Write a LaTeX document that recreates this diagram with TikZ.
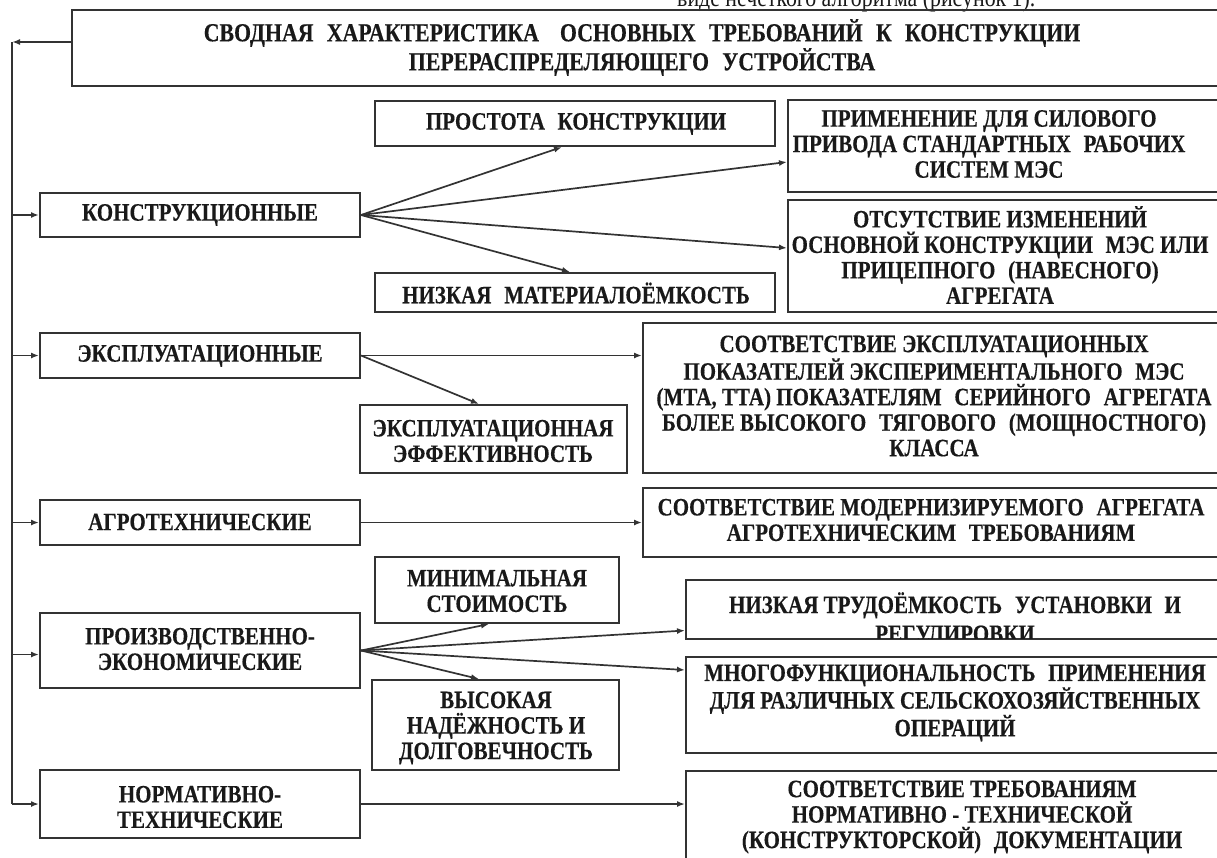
\documentclass[tikz,border=0pt]{standalone}
\usepackage{fontspec}
\setmainfont{Liberation Serif}[FakeStretch=0.84, BoldFeatures={FakeBold=0.3}]
\usetikzlibrary{arrows.meta,fit}
\newcommand\dsp{\hspace{0.3em}}
\begin{document}
\begin{tikzpicture}[x=1pt,y=-1pt,
  box/.style={draw=black!80, line width=2pt, inner sep=0pt},
  txt/.style={align=center, inner sep=0pt, text=black!90, font=\bfseries\fontsize{25}{25.5}\selectfont},
  htxt/.style={align=center, inner sep=0pt, text=black!90, font=\bfseries\fontsize{26}{29}\selectfont},
  conn/.style={draw=black!80, line width=1.7pt},
  arr/.style={conn, -{Latex[length=8pt,width=6pt]}}]
\useasboundingbox (0,0) rectangle (1217,857);

% stray text line from the page above
\node[anchor=base west, inner sep=0pt, font=\fontsize{26}{26}\selectfont, text=black!90] (above) at (677,6) {виде нечеткого алгоритма (рисунок 1).};

% boxes
\node[box, fit={(72,10) (1240,86)}] (head) {};
\node[box, fit={(375,101) (775,146)}] (prost) {};
\node[box, fit={(788,100) (1240,192)}] (prim) {};
\node[box, fit={(40,193) (360,237)}] (konstr) {};
\node[box, fit={(788,200) (1240,312)}] (otsut) {};
\node[box, fit={(375,273) (775,312)}] (nizm) {};
\node[box, fit={(40,333) (360,378)}] (ekspl) {};
\node[box, fit={(643,323) (1240,473)}] (sootv1) {};
\node[box, fit={(360,405) (627,473)}] (eff) {};
\node[box, fit={(40,500) (360,545)}] (agro) {};
\node[box, fit={(643,488) (1240,557)}] (sootv2) {};
\node[box, fit={(375,557) (619,623)}] (minim) {};
\node[box, fit={(686,580) (1240,639)}] (nizt) {};
\node[box, fit={(40,613) (360,688)}] (proizv) {};
\node[box, fit={(686,657) (1240,753)}] (mnogo) {};
\node[box, fit={(372,680) (619,770)}] (vys) {};
\node[box, fit={(40,770) (360,838)}] (norm) {};
\node[box, fit={(686,771) (1240,890)}] (sootv3) {};

% texts
\node[htxt] (head-t) at (642,47.5) {СВОДНАЯ \dsp ХАРАКТЕРИСТИКА \dsp\dsp ОСНОВНЫХ \dsp ТРЕБОВАНИЙ \dsp К \dsp КОНСТРУКЦИИ\\ПЕРЕРАСПРЕДЕЛЯЮЩЕГО \dsp УСТРОЙСТВА};
\node[txt] (prost-t) at (576,124) {ПРОСТОТА \dsp КОНСТРУКЦИИ};
\node[txt] (prim-t) at (989,144) {ПРИМЕНЕНИЕ ДЛЯ СИЛОВОГО\\ПРИВОДА СТАНДАРТНЫХ \dsp РАБОЧИХ\\СИСТЕМ МЭС};
\node[txt] (konstr-t) at (200,215) {КОНСТРУКЦИОННЫЕ};
\node[txt] (otsut-t) at (1000,255) {ОТСУТСТВИЕ ИЗМЕНЕНИЙ\\ОСНОВНОЙ КОНСТРУКЦИИ \dsp МЭС ИЛИ\\ПРИЦЕПНОГО \dsp (НАВЕСНОГО)\\АГРЕГАТА};
\node[txt] (nizm-t) at (576,293) {НИЗКАЯ \dsp МАТЕРИАЛОЁМКОСТЬ};
\node[txt] (ekspl-t) at (200,356) {ЭКСПЛУАТАЦИОННЫЕ};
\node[txt] (sootv1-t) at (934,396) {СООТВЕТСТВИЕ ЭКСПЛУАТАЦИОННЫХ\\ПОКАЗАТЕЛЕЙ ЭКСПЕРИМЕНТАЛЬНОГО \dsp МЭС\\(МТА, ТТА) ПОКАЗАТЕЛЯМ \dsp СЕРИЙНОГО \dsp АГРЕГАТА\\БОЛЕЕ ВЫСОКОГО \dsp ТЯГОВОГО \dsp (МОЩНОСТНОГО)\\КЛАССА};
\node[txt] (eff-t) at (493,441) {ЭКСПЛУАТАЦИОННАЯ\\ЭФФЕКТИВНОСТЬ};
\node[txt] (agro-t) at (200,522) {АГРОТЕХНИЧЕСКИЕ};
\node[txt] (sootv2-t) at (931,520) {СООТВЕТСТВИЕ МОДЕРНИЗИРУЕМОГО \dsp АГРЕГАТА\\АГРОТЕХНИЧЕСКИМ \dsp ТРЕБОВАНИЯМ};
\node[txt] (minim-t) at (497,591) {МИНИМАЛЬНАЯ\\СТОИМОСТЬ};
\begin{scope}
  \clip (686,580) rectangle (1240,638);
  \node[txt, font=\bfseries\fontsize{25}{29}\selectfont, anchor=north] (nizt-t) at (955,592) {НИЗКАЯ ТРУДОЁМКОСТЬ \dsp УСТАНОВКИ \dsp И\\РЕГУЛИРОВКИ};
\end{scope}
\node[txt] (proizv-t) at (200,649) {ПРОИЗВОДСТВЕННО-\\ЭКОНОМИЧЕСКИЕ};
\node[txt] (mnogo-t) at (955,703) {МНОГОФУНКЦИОНАЛЬНОСТЬ \dsp ПРИМЕНЕНИЯ\\ДЛЯ РАЗЛИЧНЫХ СЕЛЬСКОХОЗЯЙСТВЕННЫХ\\ОПЕРАЦИЙ};
\node[txt] (vys-t) at (496,728) {ВЫСОКАЯ\\НАДЁЖНОСТЬ И\\ДОЛГОВЕЧНОСТЬ};
\node[txt] (norm-t) at (200,807) {НОРМАТИВНО-\\ТЕХНИЧЕСКИЕ};
\node[txt] (sootv3-t) at (962,817) {СООТВЕТСТВИЕ ТРЕБОВАНИЯМ\\НОРМАТИВНО - ТЕХНИЧЕСКОЙ\\(КОНСТРУКТОРСКОЙ) \dsp ДОКУМЕНТАЦИИ};

% trunk
\coordinate (tr) at (12,42);
\coordinate (proizvIn) at ([yshift=-4pt]proizv.west);
\draw[arr] ([yshift=6pt]head.west) -- (tr);
\draw[conn] (tr) -- (tr |- norm.west);
\draw[arr] (tr |- konstr.west) -- (konstr.west);
\draw[arr] (tr |- ekspl.west) -- (ekspl.west);
\draw[arr] (tr |- agro.west) -- (agro.west);
\draw[arr] (tr |- proizvIn) -- (proizvIn);
\draw[arr] (tr |- norm.west) -- (norm.west);

% fan: konstr
\draw[arr] (konstr.east) -- ([xshift=188pt]prost.south west);
\draw[arr] (konstr.east) -- ([yshift=-16pt]prim.west);
\draw[arr] (konstr.east) -- ([yshift=8pt]otsut.west);
\draw[arr] (konstr.east) -- ([xshift=196pt]nizm.north west);

% ekspl
\draw[arr] (ekspl.east) -- (ekspl.east -| sootv1.west);
\draw[arr] (ekspl.east) -- ([xshift=120pt]eff.north west);

% agro
\draw[arr] (agro.east) -- (agro.east -| sootv2.west);

% proizv
\draw[arr] (proizv.east) -- ([xshift=115pt]minim.south west);
\draw[arr] (proizv.east) -- ([yshift=-21pt]nizt.west);
\draw[arr] (proizv.east) -- ([yshift=35pt]mnogo.west);
\draw[arr] (proizv.east) -- ([xshift=108pt]vys.north west);

% norm
\draw[arr] (norm.east) -- (norm.east -| sootv3.west);
\end{tikzpicture}
\end{document}
